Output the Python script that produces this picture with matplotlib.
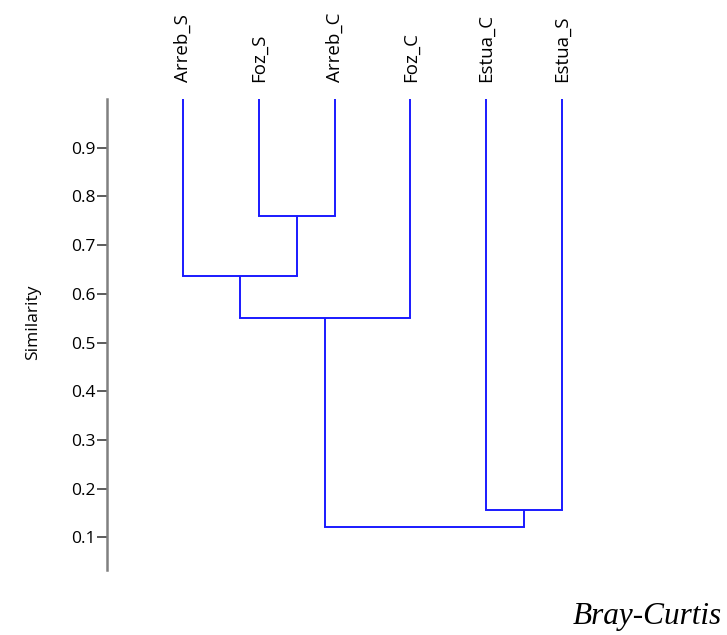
import matplotlib
matplotlib.use("Agg")
import matplotlib.pyplot as plt

# leaves in display order
leaves = ["Arreb_S", "Foz_S", "Arreb_C", "Foz_C", "Estua_C", "Estua_S"]

# merges: (left member, right member, similarity); ints >= 6 are earlier clusters
merge_a = ["Foz_S", "Arreb_S", 7, "Estua_C", 8]
merge_b = ["Arreb_C", 6, "Foz_C", "Estua_S", 9]
merge_sim = [0.759, 0.637, 0.551, 0.156, 0.121]

yticks = [0.1, 0.2, 0.3, 0.4, 0.5, 0.6, 0.7, 0.8, 0.9]
top_sim = 1.0

blue = "#1a1aff"

fig = plt.figure(figsize=(7.27, 6.35), dpi=100)
ax = fig.add_axes([0.1472, 0.1024, 0.7304, 0.7416])

# cluster positions: leaf index -> x, and current top height
pos = {}
height = {}
for i, name in enumerate(leaves):
    pos[name] = i
    height[name] = top_sim

for k in range(len(merge_sim)):
    a, b, s = merge_a[k], merge_b[k], merge_sim[k]
    xa, xb = pos[a], pos[b]
    ax.plot([xa, xa], [height[a], s], color=blue, lw=1.4, solid_capstyle="butt")
    ax.plot([xb, xb], [height[b], s], color=blue, lw=1.4, solid_capstyle="butt")
    ax.plot([xa, xb], [s, s], color=blue, lw=1.4, solid_capstyle="projecting")
    cid = len(leaves) + k
    pos[cid] = (xa + xb) / 2
    height[cid] = s

ax.set_xlim(-1, 6)
ax.set_ylim(0.033, 1.0)

for side in ["top", "right", "bottom"]:
    ax.spines[side].set_visible(False)
ax.spines["left"].set_color("#808080")
ax.spines["left"].set_linewidth(1.8)

ax.set_xticks([])
ax.set_yticks(yticks)
ax.set_yticklabels([f"{t:.1f}" for t in yticks], fontfamily="Open Sans", fontsize=12.5)
ax.tick_params(axis="y", length=7, width=1.2, color="#404040", pad=1)
ax.set_ylabel("Similarity", fontfamily="Open Sans", fontsize=12.5)
ax.yaxis.set_label_coords(-0.125, 0.525)

for i, name in enumerate(leaves):
    ax.text(i, 1.035, name, rotation=90, ha="center", va="bottom",
            fontfamily="Open Sans", fontsize=13.5)

fig.text(0.993, 0.018, "Bray-Curtis", ha="right", va="baseline",
         fontfamily="Liberation Serif", style="italic", fontsize=22.5)

fig.savefig("out.png", dpi=100)
